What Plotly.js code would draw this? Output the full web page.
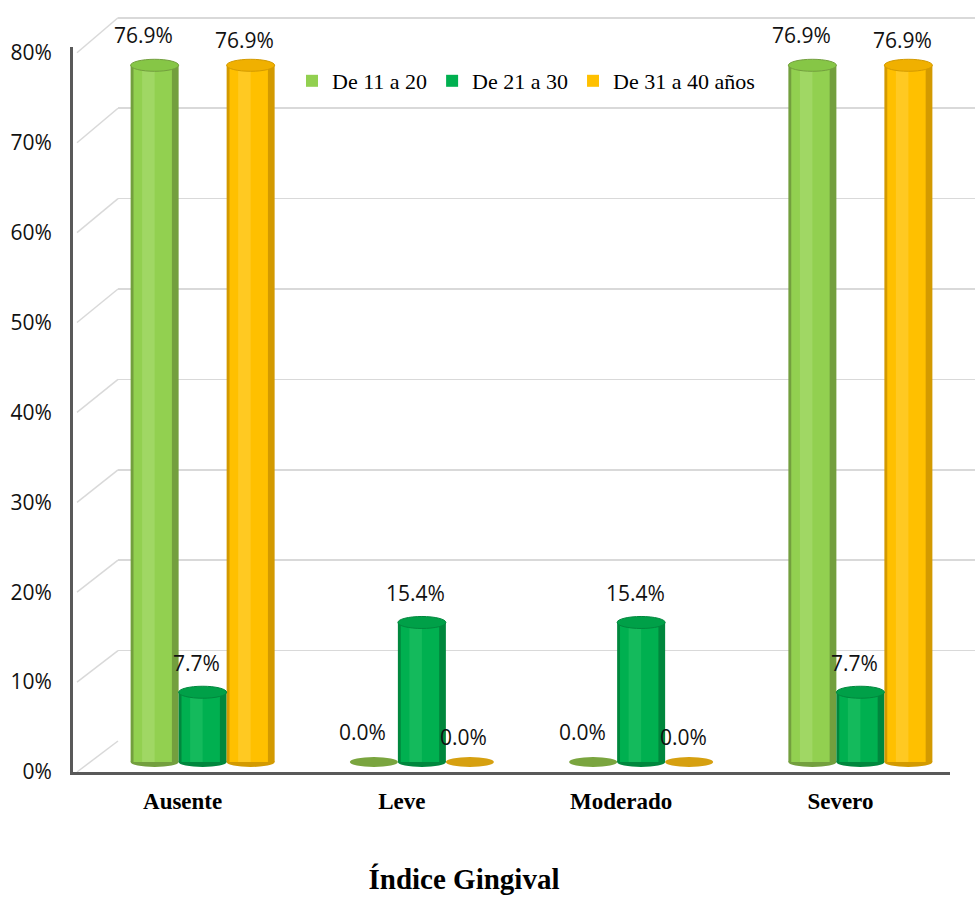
<!DOCTYPE html>
<html>
<head>
<meta charset="utf-8">
<script src="https://cdn.plot.ly/plotly-3.0.1.min.js"></script>
<style>
  html, body { margin: 0; padding: 0; background: #fff; }
  #chart { width: 980px; height: 897px; }
</style>
</head>
<body>
<div id="chart"></div>
<script>
// Índice Gingival por grupo de edad
const categories = ['Ausente', 'Leve', 'Moderado', 'Severo'];
const seriesNames = ['De 11 a 20', 'De 21 a 30', 'De 31 a 40 años'];
const edad11a20 = [76.9, 0.0, 0.0, 76.9];
const edad21a30 = [7.7, 15.4, 15.4, 7.7];
const edad31a40 = [76.9, 0.0, 0.0, 76.9];
const yTickValues = [0, 10, 20, 30, 40, 50, 60, 70, 80];
const yTickLabels = ['0%', '10%', '20%', '30%', '40%', '50%', '60%', '70%', '80%'];

const seriesValues = [edad11a20, edad21a30, edad31a40];

// cylinder palette: [edge, body, highlight, top, flat disc]
const palette = [
  ['#739F3E', '#92D050', '#A0D764', '#86C646', '#7AA53F'],
  ['#00873D', '#00B050', '#14BA5C', '#00A048', '#009A45'],
  ['#D39A00', '#FFC000', '#FFC922', '#F0B000', '#D6A010']
];

// page geometry (pixels)
const W = 980, H = 897;
const M = { l: 73, r: 5, t: 10, b: 125 };
const pw = W - M.l - M.r, ph = H - M.t - M.b;
const fx = px => (px - M.l) / pw;
const fy = py => (H - M.b - py) / ph;

const frontBottom = 772, frontTop = 47, frontRight = 950;
const barBase = 762, barScale = 9.06;      // px per % for the cylinders
const labelScale = 8.99;                   // px per % for the front axis
const backLeft = 118, backBottom = 741, backTop = 14, backScale = 9.04;

// cylinder placement inside each category (category units)
const catPx = (frontRight - M.l) / categories.length;
const barW = 48 / catPx;
const offsets = [-52 / catPx, -4 / catPx, 44 / catPx];

const traces = [];
seriesValues.forEach((vals, s) => {
  const off = offsets[s];
  const layers = [
    { o: off, w: barW, c: palette[s][0], legend: false },
    { o: off + 0.06 * barW, w: 0.80 * barW, c: palette[s][1], legend: true },
    { o: off + 0.24 * barW, w: 0.26 * barW, c: palette[s][2], legend: false }
  ];
  layers.forEach(L => {
    traces.push({
      type: 'bar',
      x: categories,
      y: vals,
      xaxis: 'x2',
      yaxis: 'y2',
      name: seriesNames[s],
      legendgroup: seriesNames[s],
      showlegend: L.legend,
      offset: L.o,
      width: L.w,
      marker: { color: L.c, line: { width: 0 } },
      hoverinfo: 'skip'
    });
  });
});

// ellipses for the cylinder tops and bottoms
const shapes = [];
const topHalf = 6 / barScale, baseHalf = 5 / barScale;
seriesValues.forEach((vals, s) => {
  vals.forEach((v, i) => {
    const x0 = i + offsets[s], x1 = x0 + barW;
    if (v > 0) {
      shapes.push({ type: 'circle', xref: 'x2', yref: 'y2', layer: 'between',
        x0, x1, y0: -baseHalf, y1: baseHalf,
        fillcolor: palette[s][0], line: { width: 0 } });
      shapes.push({ type: 'circle', xref: 'x2', yref: 'y2', layer: 'above',
        x0, x1, y0: v - topHalf, y1: v + topHalf,
        fillcolor: palette[s][3], line: { width: 1, color: palette[s][0] } });
    } else {
      shapes.push({ type: 'circle', xref: 'x2', yref: 'y2', layer: 'above',
        x0, x1, y0: v - baseHalf, y1: v + baseHalf,
        fillcolor: palette[s][4], line: { width: 0 } });
    }
  });
});

// side wall: lines joining the front axis to the back wall grid
yTickValues.forEach(v => {
  shapes.push({ type: 'line', xref: 'paper', yref: 'paper', layer: 'below',
    x0: fx(77), y0: fy(frontBottom - v * labelScale),
    x1: fx(backLeft), y1: fy(backBottom - v * backScale),
    line: { color: '#D9D9D9', width: 1.5 } });
});

// value labels above each cylinder
const labelShift = [[-11, 30], [-6, 29], [-6, 25]];
const annotations = [];
seriesValues.forEach((vals, s) => {
  vals.forEach((v, i) => {
    annotations.push({
      xref: 'x2', yref: 'y2',
      x: i + offsets[s] + barW / 2, y: v,
      xshift: labelShift[s][0], yshift: labelShift[s][1],
      text: v.toFixed(1) + '%', showarrow: false,
      font: { family: 'Open Sans', size: 21, color: '#111' }
    });
  });
});

const layout = {
  width: W, height: H,
  margin: M,
  paper_bgcolor: '#fff',
  plot_bgcolor: 'rgba(0,0,0,0)',
  barmode: 'overlay',
  showlegend: true,
  title: {
    text: 'Índice Gingival',
    font: { family: 'Liberation Serif', size: 29, weight: 'bold', color: '#000' },
    xref: 'container', yref: 'container',
    x: 464 / W, xanchor: 'center',
    y: 1 - 879 / H, yanchor: 'middle'
  },
  legend: {
    orientation: 'h',
    x: fx(292), xanchor: 'left',
    y: fy(81), yanchor: 'middle',
    font: { family: 'Liberation Serif', size: 22, color: '#000' },
    bgcolor: 'rgba(0,0,0,0)',
    traceorder: 'normal'
  },
  // back wall grid
  xaxis: {
    domain: [fx(backLeft), 1], anchor: 'y', range: [0, 1],
    showgrid: false, zeroline: false, showline: false, showticklabels: false, ticks: ''
  },
  yaxis: {
    domain: [fy(backBottom), fy(backTop)], anchor: 'x',
    range: [0, (backBottom - backTop) / backScale],
    tick0: 0, dtick: 10,
    showgrid: true, gridcolor: '#D9D9D9', gridwidth: 1.5,
    zeroline: false, showline: false, showticklabels: false, ticks: ''
  },
  // categories and cylinders
  xaxis2: {
    domain: [0, fx(frontRight)], anchor: 'y2',
    type: 'category', range: [-0.5, categories.length - 0.5],
    showgrid: false, zeroline: false,
    showline: true, linecolor: '#595959', linewidth: 3,
    ticks: '', ticklabelstandoff: 6,
    tickfont: { family: 'Liberation Serif', size: 23, weight: 'bold', color: '#000' }
  },
  yaxis2: {
    domain: [0, fy(frontTop)], anchor: 'x2',
    range: [-(frontBottom - barBase) / barScale, (barBase - frontTop) / barScale],
    showgrid: false, zeroline: false, showline: false, showticklabels: false, ticks: ''
  },
  // front value axis
  yaxis3: {
    overlaying: 'y2', anchor: 'x2', side: 'left',
    range: [0, (frontBottom - frontTop) / labelScale],
    tickmode: 'array', tickvals: yTickValues, ticktext: yTickLabels,
    showgrid: false, zeroline: false,
    showline: true, linecolor: '#595959', linewidth: 3,
    ticks: '', ticklabelstandoff: 14,
    tickfont: { family: 'Open Sans', size: 21, color: '#111' }
  },
  shapes: shapes,
  annotations: annotations
};

// an empty trace ties the front value axis to the plot
traces.push({ type: 'scatter', x: [], y: [], xaxis: 'x2', yaxis: 'y3', showlegend: false, hoverinfo: 'skip' });
// the back wall subplot
traces.unshift({ type: 'scatter', x: [], y: [], xaxis: 'x', yaxis: 'y', showlegend: false, hoverinfo: 'skip' });

Plotly.newPlot('chart', traces, layout, { displayModeBar: false, staticPlot: true });
</script>
</body>
</html>
